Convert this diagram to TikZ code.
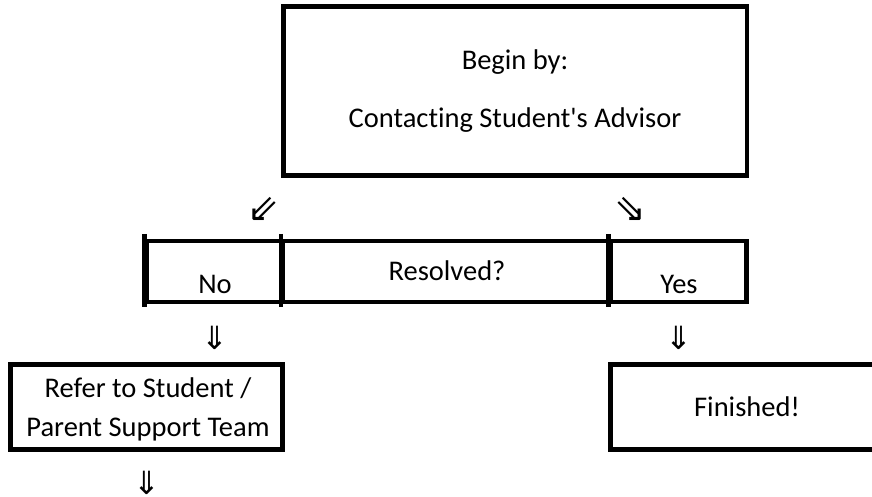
\documentclass[tikz,border=0pt]{standalone}
\usepackage{fontspec}
\setmainfont{Carlito}[Ligatures={NoCommon,TeXOff}]
\newfontfamily\arrowfont{DejaVu Sans}
\begin{document}
\begin{tikzpicture}[x=1pt,y=-1pt,
  box/.style={draw=black, line width=4.5pt, inner sep=0pt, rectangle},
  tick/.style={draw=black, line width=4.5pt},
  txt/.style={anchor=base, inner sep=0pt, font=\fontsize{28.5}{34}\selectfont},
  arr/.style={inner sep=0pt, font=\arrowfont\fontsize{32}{36}\selectfont},
  darr/.style={inner sep=0pt, font=\arrowfont\fontsize{38}{42}\selectfont}]
\clip (0,0) rectangle (872,497);
\fill[white] (0,0) rectangle (872,497);
% top box
\node[box, minimum width=463.5pt, minimum height=169pt] (top) at (515.25,91) {};
\node[txt] (t1) at (515,70) {Begin by:};
\node[txt] (t2) at (515,128) {Contacting Student's Advisor};
% arrows to middle row
\node[darr] (a1) at (263,209) {⇙};
\node[darr] (a2) at (630,209) {⇘};
% middle row
\node[box, minimum width=136.5pt, minimum height=61pt] (no) at (214.75,271.5) {};
\node[box, minimum width=327.5pt, minimum height=61pt] (res) at (446.75,271.5) {};
\node[box, minimum width=136pt, minimum height=61pt] (yes) at (678.5,271.5) {};
\draw[tick] ([yshift=5pt]no.north west) -- ([yshift=-3pt]no.south west);
\draw[tick] ([yshift=5pt]res.north west) -- ([yshift=-3pt]res.south west);
\draw[tick] ([yshift=5pt]yes.north west) -- ([yshift=-3pt]yes.south west);
\node[txt] (tno) at (215,293) {No};
\node[txt] (tres) at (447,280) {Resolved?};
\node[txt] (tyes) at (679,293) {Yes};
% arrows down
\node[arr] (a3) at (215,338) {⇓};
\node[arr] (a4) at (679,338) {⇓};
% bottom boxes
\node[box, minimum width=272pt, minimum height=85pt] (refer) at (146.5,407) {};
\node[txt] (r1) at (148,397) {Refer to Student /};
\node[txt] (r2) at (148,436) {Parent Support Team};
\node[box, minimum width=273pt, minimum height=85pt] (fin) at (747,407) {};
\node[txt] (tfin) at (747,416) {Finished!};
\node[arr] (a5) at (147,483) {⇓};
\end{tikzpicture}
\end{document}
